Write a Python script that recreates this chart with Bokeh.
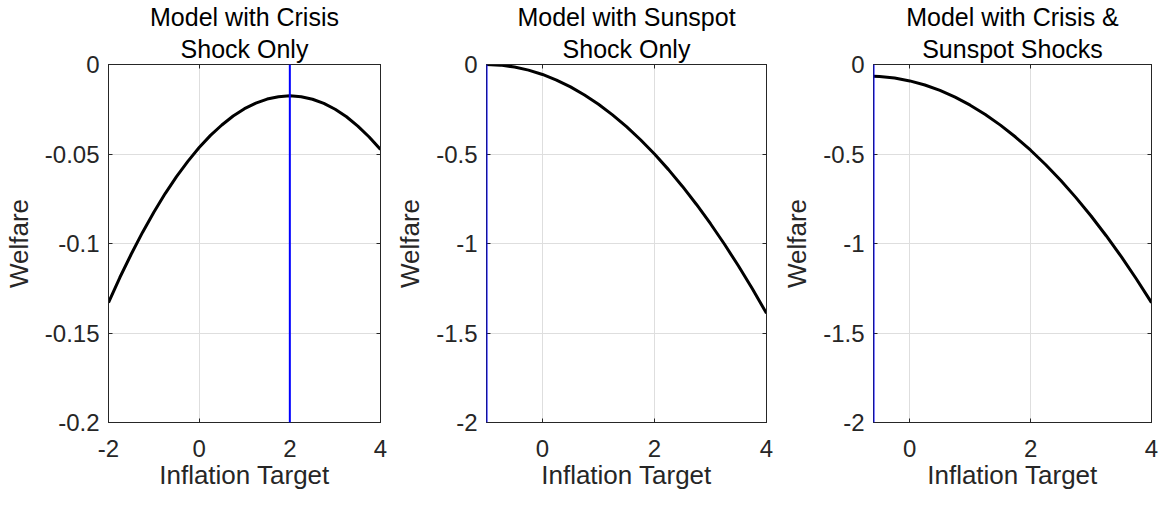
from bokeh.plotting import figure
from bokeh.layouts import row
from bokeh.models import FixedTicker, LinearAxis, Title, Span, Range1d
from bokeh.embed import file_html
from bokeh.resources import INLINE

# ---------------- data ----------------
titles = [("Model with Crisis", "Shock Only"),
          ("Model with Sunspot", "Shock Only"),
          ("Model with Crisis &", "Sunspot Shocks")]
x_label = "Inflation Target"
y_label = "Welfare"

# Panel 1: crisis shock only
x1 = [-2.0, -1.75, -1.5, -1.25, -1.0, -0.75, -0.5, -0.25, 0.0, 0.25, 0.5,
      0.75, 1.0, 1.25, 1.5, 1.75, 2.0, 2.25, 2.5, 2.75, 3.0, 3.25, 3.5,
      3.75, 4.0]
y1 = [-0.1330, -0.1190, -0.1060, -0.0938, -0.0825, -0.0721, -0.0626,
      -0.0541, -0.0464, -0.0396, -0.0338, -0.0288, -0.0247, -0.0216,
      -0.0193, -0.0180, -0.0175, -0.0180, -0.0194, -0.0217, -0.0250,
      -0.0292, -0.0344, -0.0405, -0.0475]

# Panel 2: sunspot shock only
x2 = [-1.0, -0.75, -0.5, -0.25, 0.0, 0.25, 0.5, 0.75, 1.0, 1.25, 1.5, 1.75,
      2.0, 2.25, 2.5, 2.75, 3.0, 3.25, 3.5, 3.75, 4.0]
y2 = [0.0, -0.0035, -0.0139, -0.0313, -0.0556, -0.0869, -0.1251, -0.1703,
      -0.2224, -0.2815, -0.3475, -0.4205, -0.5004, -0.5873, -0.6811,
      -0.7819, -0.8896, -1.0043, -1.1259, -1.2545, -1.3900]

# Panel 3: crisis & sunspot shocks
x3 = [-0.6, -0.5, -0.25, 0.0, 0.25, 0.5, 0.75, 1.0, 1.25, 1.5, 1.75, 2.0,
      2.25, 2.5, 2.75, 3.0, 3.25, 3.5, 3.75, 4.0]
y3 = [-0.0660, -0.0674, -0.0759, -0.0917, -0.1147, -0.1450, -0.1825,
      -0.2273, -0.2793, -0.3386, -0.4051, -0.4789, -0.5599, -0.6482,
      -0.7437, -0.8465, -0.9565, -1.0738, -1.1983, -1.3301]

optimal_target = [2.0, -1.0, -0.6]

x_limits = [(-2, 4), (-1, 4), (-0.6, 4)]
y_limits = [(-0.2, 0), (-2, 0), (-2, 0)]

x_ticks = [[-2, 0, 2, 4], [0, 2, 4], [0, 2, 4]]
x_tick_labels = [["-2", "0", "2", "4"], ["0", "2", "4"], ["0", "2", "4"]]
y_ticks = [[-0.2, -0.15, -0.1, -0.05, 0],
           [-2, -1.5, -1, -0.5, 0],
           [-2, -1.5, -1, -0.5, 0]]
y_tick_labels = [["-0.2", "-0.15", "-0.1", "-0.05", "0"],
                 ["-2", "-1.5", "-1", "-0.5", "0"],
                 ["-2", "-1.5", "-1", "-0.5", "0"]]

xs = [x1, x2, x3]
ys = [y1, y2, y3]

# ---------------- layout ----------------
widths = [390, 386, 385]
frame_widths = [278, 280, 278]
left_borders = [102, 96, 97]
HEIGHT = 492
TOP = 61
BOTTOM = 70

FONT = "Liberation Sans"
AX_COLOR = "#262626"
GRID_COLOR = "#dedede"

figs = []
for i in range(3):
    p = figure(width=widths[i], height=HEIGHT, output_backend="svg",
               toolbar_location=None,
               x_range=Range1d(*x_limits[i]), y_range=Range1d(*y_limits[i]),
               x_axis_location=None, y_axis_location=None,
               min_border_left=left_borders[i],
               min_border_right=widths[i] - left_borders[i] - frame_widths[i],
               min_border_top=TOP, min_border_bottom=BOTTOM)
    p.background_fill_color = "white"
    p.border_fill_color = "white"
    p.outline_line_color = AX_COLOR
    p.outline_line_width = 1

    xt = FixedTicker(ticks=x_ticks[i], minor_ticks=[])
    yt = FixedTicker(ticks=y_ticks[i], minor_ticks=[])
    xover = {float(v): s for v, s in zip(x_ticks[i], x_tick_labels[i])}
    yover = {float(v): s for v, s in zip(y_ticks[i], y_tick_labels[i])}

    xb = LinearAxis(ticker=xt, axis_label=x_label, major_label_overrides=xover)
    yl = LinearAxis(ticker=yt, axis_label=y_label, major_label_overrides=yover)
    for ax in (xb, yl):
        ax.axis_line_color = AX_COLOR
        ax.major_tick_line_color = AX_COLOR
        ax.major_tick_in = 4
        ax.major_tick_out = 0
        ax.minor_tick_line_color = None
        ax.major_label_text_font = FONT
        ax.major_label_text_font_size = "24px"
        ax.major_label_text_color = AX_COLOR
        ax.axis_label_text_font = FONT
        ax.axis_label_text_font_size = "26px"
        ax.axis_label_text_font_style = "normal"
        ax.axis_label_text_color = AX_COLOR
    xb.major_label_standoff = 17
    xb.axis_label_standoff = 0
    yl.major_label_standoff = 9
    yl.axis_label_standoff = 8
    p.add_layout(xb, "below")
    p.add_layout(yl, "left")

    # box ticks on top / right
    xtop = LinearAxis(ticker=xt, major_label_text_font_size="0px",
                      major_label_standoff=0)
    yright = LinearAxis(ticker=yt, major_label_text_font_size="0px",
                        major_label_standoff=0)
    for ax in (xtop, yright):
        ax.axis_line_color = AX_COLOR
        ax.major_tick_line_color = AX_COLOR
        ax.major_tick_in = 4
        ax.major_tick_out = 0
        ax.minor_tick_line_color = None
    p.add_layout(xtop, "above")
    p.add_layout(yright, "right")

    # grid
    p.xgrid.ticker = xt
    p.ygrid.ticker = yt
    p.xgrid.grid_line_color = GRID_COLOR
    p.ygrid.grid_line_color = GRID_COLOR
    p.xgrid.grid_line_width = 1
    p.ygrid.grid_line_width = 1

    # titles (line 2 first: nearest to frame)
    p.add_layout(Title(text=titles[i][1], align="center", text_font=FONT,
                       text_font_size="25px", text_font_style="normal",
                       text_color="black", standoff=4), "above")
    p.add_layout(Title(text=titles[i][0], align="center", text_font=FONT,
                       text_font_size="25px", text_font_style="normal",
                       text_color="black", standoff=0), "above")

    p.line(xs[i], ys[i], line_color="black", line_width=3, line_join="round")
    p.add_layout(Span(location=optimal_target[i], dimension="height",
                      line_color="#0000ff", line_width=2, level="annotation"))
    figs.append(p)

layout = row(*figs, spacing=0)
open("out.html", "w").write(file_html(layout, INLINE))
